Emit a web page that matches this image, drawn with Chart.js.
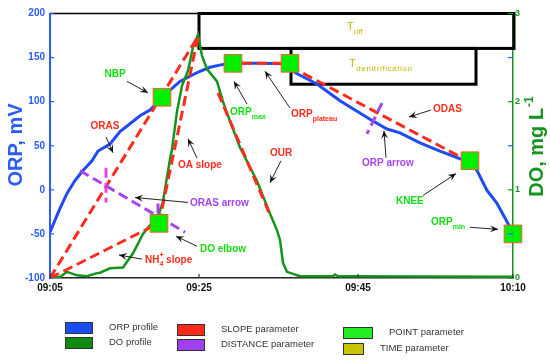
<!DOCTYPE html>
<html>
<head>
<meta charset="utf-8">
<script src="https://cdn.jsdelivr.net/npm/chart.js@4/dist/chart.umd.min.js"></script>
<style>
  html, body { margin: 0; padding: 0; background: #fff; }
  #wrap { width: 550px; height: 360px; }
</style>
</head>
<body>
<div id="wrap"><canvas id="chart"></canvas></div>
<script>
// x is a sample index along the cycle, time labels sit on it
const timeIdx = [0, 149, 308, 463];
const timeLabels = ['09:05', '09:25', '09:45', '10:10'];

// ORP profile (mV)
const orpIdx = [0, 7, 10, 17, 25, 30, 33, 42, 48, 60, 70, 80, 90, 100, 110, 120, 130, 140, 150, 160, 172, 183, 210, 235, 243, 250, 267, 290, 320, 337, 350, 370, 390, 410, 420, 427, 437, 447, 455, 463];
const orpVal = [-48, -29, -21, -4, 10.5, 17.7, 22, 33, 44, 52, 66, 75, 84, 90.5, 102, 113, 123, 129, 134.5, 139, 142, 143.5, 143.5, 143, 134.5, 130, 120, 101, 80, 69, 64.6, 53.3, 44, 35.3, 33, 21.8, -0.8, -15.4, -32, -49];

// DO profile (mg/L)
const doIdx = [0, 10, 17, 27, 37, 45, 50, 60, 73, 83, 93, 100, 107, 113, 120, 122, 127, 132, 138, 143, 148, 152, 157, 167, 173, 180, 190, 207, 220, 227, 230, 233, 237, 250, 283, 285, 288, 300, 463];
const doVal = [0.01, 0.01, 0.07, 0.03, 0.02, 0.05, 0.06, 0.11, 0.12, 0.28, 0.5, 0.6, 0.66, 0.87, 1.35, 1.46, 1.89, 2.18, 2.35, 2.62, 2.76, 2.52, 2.37, 2.23, 2.0, 1.78, 1.48, 1.1, 0.73, 0.54, 0.43, 0.17, 0.07, 0.02, 0.02, 0.04, 0.02, 0.02, 0.015];

// slope parameters (ORP axis, OUR on DO axis)
const orasX = [0, 148], orasY = [-100, 174];
const nh4X = [0, 105], nh4Y = [-100, -40];
const oaX = [109, 148], oaY = [-38, 174];
const ourX = [168, 221], ourY = [2.1, 0.69];
const plateauX = [192, 232], plateauY = [143.5, 143.5];
const odasX = [240, 412], odasY = [140, 36.4];

// distance parameters
const orasArrowX = [30, 135], orasArrowY = [21.8, -48.1];
const orasCrossX = [56, 56], orasCrossY = [25.1, -14.3];
const elbowCrossX = [108, 108], elbowCrossY = [-15.4, -49.3];
const orpArrowX = [332, 317], orpArrowY = [98.4, 63.5];

// point parameters
const pointX = [112, 109, 183, 240, 420, 463];
const pointY = [105, -38, 143.5, 143.5, 33, -50];

// time parameters: start, end, upper ORP, lower ORP
const tOff = [149, 464, 200, 160.4];
const tDenit = [241, 426, 160.4, 119.8];

const BLUE = '#1f4cf2';
const AXIS_BLUE = '#2a5cff';
const DO_GREEN = '#14941c';
const RED = '#ff2b1c';
const PURPLE = '#a544f0';
const PINK = '#ee44dd';
const TXT_GREEN = '#11dd11';
const OLIVE = '#c8b800';
const FONT = '"Liberation Sans", Arial, sans-serif';

Chart.defaults.font.family = FONT;

const xy = (xs, ys) => xs.map((x, i) => ({ x: x, y: ys[i] }));
const line = (xs, ys, color, width, axis) => ({
  data: xy(xs, ys), borderColor: color, borderWidth: width, pointRadius: 0,
  tension: 0, fill: false, yAxisID: axis || 'y'
});
const dashed = (xs, ys, color, axis) => Object.assign(line(xs, ys, color, 3, axis), { borderDash: [10, 5] });

// text annotations: [text, size, dy, noAdvance]
const notes = [
  { parts: [['NBP']], at: [65, 131], color: TXT_GREEN, align: 'center', arrow: [77, 123, 98, 110] },
  { parts: [['ORAS']], at: [55, 72.5], color: RED, align: 'center', arrow: [56, 60, 63, 42] },
  { parts: [['OA slope']], at: [128, 27.4], color: RED, align: 'left', arrow: [147, 36, 138, 58] },
  { parts: [['ORAS arrow']], at: [140, -15.4], color: PURPLE, align: 'left', arrow: [138, -14.3, 85, -8.7] },
  { parts: [['DO elbow']], at: [150, -67.3], color: TXT_GREEN, align: 'left', arrow: [147, -64, 126, -52.6] },
  { parts: [['NH'], ['+', 7, -5, true], ['4', 7, 4], [' slope']], at: [95, -79.7], color: RED, align: 'left', arrow: [92, -78.6, 69, -74] },
  { parts: [['OUR']], at: [231, 41], color: RED, align: 'center', arrow: [231, 33, 220, 8] },
  { parts: [['ORP'], ['max', 7, 5]], at: [180, 88.3], color: TXT_GREEN, align: 'left', arrow: [197, 97.3, 184, 123] },
  { parts: [['ORP'], ['plateau', 7, 5]], at: [241, 86], color: RED, align: 'left', arrow: [240, 92.8, 215, 134.5] },
  { parts: [['ORP arrow']], at: [312, 29.7], color: PURPLE, align: 'left', arrow: [336, 36.4, 334, 67] },
  { parts: [['ODAS']], at: [383, 91.7], color: RED, align: 'left', arrow: [381, 90.5, 359, 82.6] },
  { parts: [['KNEE']], at: [346, -13.2], color: TXT_GREEN, align: 'left', arrow: [373, -6.4, 406, 18.4] },
  { parts: [['ORP'], ['min', 7, 5]], at: [381, -36.9], color: TXT_GREEN, align: 'left', arrow: [420, -42.5, 448, -44.8] }
];

function drawParts(ctx, parts, x, y, align, color, bold, spacing) {
  const fontOf = p => (bold ? 'bold ' : '') + (p[1] || 10) + 'px ' + FONT;
  let total = 0;
  parts.forEach(p => { ctx.font = fontOf(p); if (!p[3]) total += ctx.measureText(p[0]).width; });
  let cx = align === 'center' ? x - total / 2 : x;
  ctx.fillStyle = color;
  ctx.textAlign = 'left';
  ctx.textBaseline = 'middle';
  parts.forEach(p => {
    ctx.font = fontOf(p);
    ctx.letterSpacing = (p[1] && spacing) ? spacing : '0px';
    ctx.fillText(p[0], cx, y + (p[2] || 0));
    if (!p[3]) cx += ctx.measureText(p[0]).width;
  });
  ctx.letterSpacing = '0px';
}

function drawArrow(ctx, x1, y1, x2, y2) {
  ctx.beginPath(); ctx.moveTo(x1, y1); ctx.lineTo(x2, y2); ctx.stroke();
  const a = Math.atan2(y2 - y1, x2 - x1), L = 8, W = 3.5;
  ctx.beginPath();
  ctx.moveTo(x2, y2);
  ctx.lineTo(x2 - L * Math.cos(a) + W * Math.sin(a), y2 - L * Math.sin(a) - W * Math.cos(a));
  ctx.lineTo(x2 - 0.6 * L * Math.cos(a), y2 - 0.6 * L * Math.sin(a));
  ctx.lineTo(x2 - L * Math.cos(a) - W * Math.sin(a), y2 - L * Math.sin(a) + W * Math.cos(a));
  ctx.closePath(); ctx.fill();
}

const decorations = {
  id: 'decorations',
  beforeDatasetsDraw(chart) {
    const { ctx, chartArea: a, scales: { x, y } } = chart;
    ctx.save();
    ctx.strokeStyle = '#000';
    ctx.lineWidth = 1.5;
    ctx.beginPath(); ctx.moveTo(a.left, a.top); ctx.lineTo(a.right, a.top); ctx.stroke();
    ctx.lineWidth = 3;
    [tOff, tDenit].forEach(b => {
      const x0 = x.getPixelForValue(b[0]), x1 = x.getPixelForValue(b[1]);
      const y0 = y.getPixelForValue(b[2]), y1 = y.getPixelForValue(b[3]);
      ctx.strokeRect(x0, y0, x1 - x0, y1 - y0);
    });
    ctx.restore();
  },
  afterDatasetsDraw(chart) {
    const { ctx, chartArea: a, scales: { x, y, y2 } } = chart;
    ctx.save();
    // inward tick marks
    ctx.lineWidth = 1.2;
    ctx.strokeStyle = AXIS_BLUE;
    y.ticks.forEach(t => {
      const py = y.getPixelForValue(t.value);
      ctx.beginPath(); ctx.moveTo(a.left, py); ctx.lineTo(a.left + 4, py); ctx.stroke();
    });
    y2.ticks.forEach(t => {
      const py = y2.getPixelForValue(t.value);
      ctx.strokeStyle = Number.isInteger(t.value) ? DO_GREEN : AXIS_BLUE;
      ctx.beginPath(); ctx.moveTo(a.right - 5, py); ctx.lineTo(a.right, py); ctx.stroke();
    });
    ctx.strokeStyle = '#333';
    timeIdx.forEach(v => {
      const px = x.getPixelForValue(v);
      ctx.beginPath(); ctx.moveTo(px, a.bottom); ctx.lineTo(px, a.bottom - 4); ctx.stroke();
    });

    // time labels in boxes
    drawParts(ctx, [['T', 11], ['off', 8, 5]], x.getPixelForValue(297), y.getPixelForValue(185), 'left', OLIVE, false);
    drawParts(ctx, [['T', 11], ['denitrification', 8, 5]], x.getPixelForValue(299), y.getPixelForValue(142.4), 'left', OLIVE, false, '0.6px');

    // annotations with arrows
    ctx.strokeStyle = '#222';
    ctx.lineWidth = 1;
    notes.forEach(n => {
      const ar = n.arrow;
      ctx.fillStyle = '#111';
      drawArrow(ctx, x.getPixelForValue(ar[0]), y.getPixelForValue(ar[1]), x.getPixelForValue(ar[2]), y.getPixelForValue(ar[3]));
      drawParts(ctx, n.parts, x.getPixelForValue(n.at[0]), y.getPixelForValue(n.at[1]), n.align, n.color, true);
    });
    ctx.restore();
  },
  afterDraw(chart) {
    const { ctx } = chart;
    ctx.save();
    // axis titles, both read upwards
    ctx.translate(16, 145);
    ctx.rotate(-Math.PI / 2);
    ctx.font = 'bold 20px ' + FONT;
    ctx.fillStyle = AXIS_BLUE;
    ctx.textAlign = 'center';
    ctx.textBaseline = 'middle';
    ctx.fillText('ORP, mV', 0, 0);
    ctx.restore();

    ctx.save();
    ctx.translate(537, 147);
    ctx.rotate(-Math.PI / 2);
    ctx.fillStyle = DO_GREEN;
    ctx.textBaseline = 'middle';
    ctx.font = 'bold 20px ' + FONT;
    const main = 'DO, mg L';
    const w1 = ctx.measureText(main).width;
    ctx.font = 'bold 12px ' + FONT;
    const w2 = ctx.measureText('-1').width;
    const sx = -(w1 + w2) / 2;
    ctx.font = 'bold 20px ' + FONT;
    ctx.fillText(main, sx, 0);
    ctx.font = 'bold 12px ' + FONT;
    ctx.fillText('-1', sx + w1 + 1, -7);
    ctx.restore();

    // legend
    const legend = [
      ['ORP profile', '#1a4cff', 65, 322, 27],
      ['DO profile', '#118a11', 65, 337, 27],
      ['SLOPE parameter', '#ff2a1a', 177, 324, 27],
      ['DISTANCE parameter', '#a040f0', 177, 339, 27],
      ['POINT parameter', '#22ee22', 343, 327, 29],
      ['TIME parameter', '#c8c400', 343, 343, 20]
    ];
    ctx.save();
    ctx.font = '9.5px ' + FONT;
    ctx.textBaseline = 'middle';
    legend.forEach(l => {
      ctx.fillStyle = l[1];
      ctx.fillRect(l[2], l[3], l[4], 11);
      ctx.strokeStyle = '#333';
      ctx.lineWidth = 1;
      ctx.strokeRect(l[2] + 0.5, l[3] + 0.5, l[4], 11);
      ctx.fillStyle = '#333';
      ctx.fillText(l[0], l[2] + l[4] + 17, l[3] + 5.5);
    });
    ctx.restore();
  }
};

new Chart(document.getElementById('chart'), {
  type: 'line',
  data: {
    datasets: [
      {
        data: xy(pointX, pointY), showLine: false, pointStyle: 'rect', pointRadius: 12.5,
        pointHoverRadius: 12.5, pointBackgroundColor: '#00ee00', pointBorderColor: '#ff5a30',
        pointBorderWidth: 1, yAxisID: 'y', clip: false
      },
      dashed(orasArrowX, orasArrowY, PURPLE),
      dashed(orasCrossX, orasCrossY, PINK),
      dashed(elbowCrossX, elbowCrossY, PURPLE),
      dashed(orpArrowX, orpArrowY, PURPLE),
      dashed(orasX, orasY, RED),
      dashed(nh4X, nh4Y, RED),
      dashed(oaX, oaY, RED),
      dashed(ourX, ourY, RED, 'y2'),
      dashed(plateauX, plateauY, RED),
      dashed(odasX, odasY, RED),
      line(doIdx, doVal, DO_GREEN, 2.5, 'y2'),
      line(orpIdx, orpVal, BLUE, 3)
    ]
  },
  options: {
    responsive: true,
    maintainAspectRatio: false,
    animation: false,
    layout: { padding: { top: 12, left: 0, right: 0, bottom: 0 } },
    plugins: { legend: { display: false }, tooltip: { enabled: false } },
    scales: {
      x: {
        type: 'linear', min: 0, max: 463,
        afterBuildTicks: s => { s.ticks = timeIdx.map(v => ({ value: v })); },
        afterFit: s => { s.height = 82; },
        grid: { display: false, drawTicks: false },
        border: { color: '#222', width: 1.5 },
        ticks: {
          autoSkip: false, maxRotation: 0, padding: 4, color: '#111',
          font: { size: 10, weight: 'bold' },
          callback: v => timeLabels[timeIdx.indexOf(v)]
        }
      },
      y: {
        position: 'left', min: -100, max: 200,
        afterFit: s => { s.width = 50; },
        grid: { display: false, drawTicks: false },
        border: { color: AXIS_BLUE, width: 2 },
        ticks: { stepSize: 50, padding: 5, color: AXIS_BLUE, font: { size: 10, weight: 'bold' } }
      },
      y2: {
        position: 'right', min: 0, max: 3,
        afterFit: s => { s.width = 37; },
        grid: { display: false, drawTicks: false },
        border: { color: DO_GREEN, width: 1.5 },
        ticks: {
          stepSize: 0.5, padding: 2, color: DO_GREEN, font: { size: 9, weight: 'bold' },
          callback: v => Number.isInteger(v) ? v : ''
        }
      }
    }
  },
  plugins: [decorations]
});
</script>
</body>
</html>
